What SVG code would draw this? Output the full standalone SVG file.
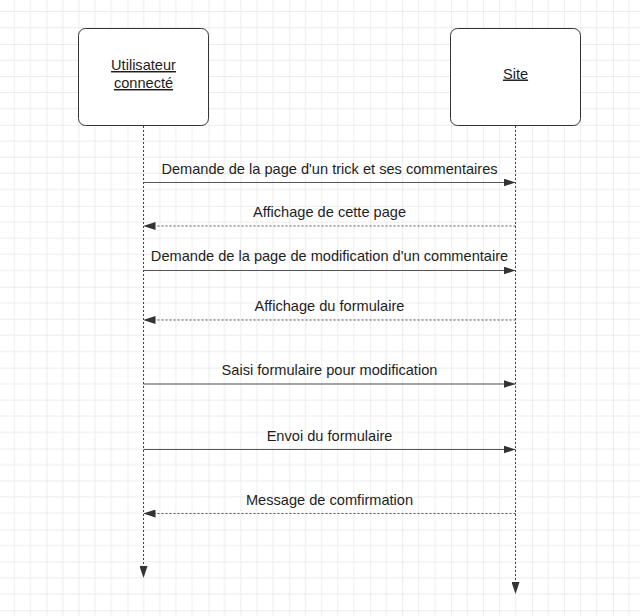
<svg xmlns="http://www.w3.org/2000/svg" width="640" height="616" viewBox="0 0 640 616">
<style>
.box{fill:#ffffff;stroke:#333333;stroke-width:1}
.lbl{font-family:"Liberation Sans",Arial,sans-serif;font-size:14.6px;fill:#1e1e1e;text-anchor:middle}
.title{text-decoration:underline}
.msg{stroke:#555555;stroke-width:1;fill:none;marker-end:url(#ah)}
.ret{stroke:#555555;stroke-width:1;fill:none;stroke-dasharray:2,2;marker-end:url(#ah)}
.life{stroke:#444444;stroke-width:1;fill:none;stroke-dasharray:2,2;marker-end:url(#ah)}
</style>
<defs>
<pattern id="grid" patternUnits="userSpaceOnUse" x="46.6" y="44" width="80.9" height="80.9">
<g stroke="#ececec" stroke-width="1">
<line x1="16.18" y1="0" x2="16.18" y2="80.9"/>
<line x1="32.36" y1="0" x2="32.36" y2="80.9"/>
<line x1="48.54" y1="0" x2="48.54" y2="80.9"/>
<line x1="64.72" y1="0" x2="64.72" y2="80.9"/>
<line x1="0" y1="16.18" x2="80.9" y2="16.18"/>
<line x1="0" y1="32.36" x2="80.9" y2="32.36"/>
<line x1="0" y1="48.54" x2="80.9" y2="48.54"/>
<line x1="0" y1="64.72" x2="80.9" y2="64.72"/>
</g>
<g stroke="#dcdcdc" stroke-width="1">
<line x1="0" y1="0" x2="0" y2="80.9"/>
<line x1="0" y1="0" x2="80.9" y2="0"/>
</g>
</pattern>
<marker id="ah" markerUnits="userSpaceOnUse" markerWidth="12" markerHeight="8" refX="12" refY="4" orient="auto">
<path d="M0,0 L12,4 L0,8 z" fill="#333333"/>
</marker>
</defs>
<rect x="0" y="0" width="640" height="616" fill="#ffffff"/>
<rect x="0" y="0" width="640" height="616" fill="url(#grid)"/>

<g id="connectors">
<line class="life" x1="143.5" y1="126" x2="143.5" y2="578"/>
<line class="life" x1="515.5" y1="126" x2="515.5" y2="594"/>
<line class="msg" x1="143.5" y1="182.5" x2="515.5" y2="182.5"/>
<line class="ret" x1="515.5" y1="226" x2="143.5" y2="226"/>
<line class="msg" x1="143.5" y1="270.5" x2="515.5" y2="270.5"/>
<line class="ret" x1="515.5" y1="320" x2="143.5" y2="320"/>
<line class="msg" x1="143.5" y1="384" x2="515.5" y2="384"/>
<line class="msg" x1="143.5" y1="449.5" x2="515.5" y2="449.5"/>
<line class="ret" x1="515.5" y1="513.5" x2="143.5" y2="513.5"/>
<text class="lbl" x="329.5" y="173.5">Demande de la page d'un trick et ses commentaires</text>
<text class="lbl" x="329.5" y="217">Affichage de cette page</text>
<text class="lbl" x="329.5" y="261">Demande de la page de modification d'un commentaire</text>
<text class="lbl" x="329.5" y="310.5">Affichage du formulaire</text>
<text class="lbl" x="329.5" y="375">Saisi formulaire pour modification</text>
<text class="lbl" x="329.5" y="440.5">Envoi du formulaire</text>
<text class="lbl" x="329.5" y="504.5">Message de comfirmation</text>
</g>

<g id="node-utilisateur">
<rect class="box" x="78.5" y="28.5" width="130" height="97" rx="7"/>
<text class="lbl title" x="143.5" y="70">Utilisateur</text>
<text class="lbl title" x="143.5" y="88">connecté</text>
</g>

<g id="node-site">
<rect class="box" x="450.5" y="28.5" width="130" height="97" rx="7"/>
<text class="lbl title" x="515.5" y="78.5">Site</text>
</g>
</svg>
